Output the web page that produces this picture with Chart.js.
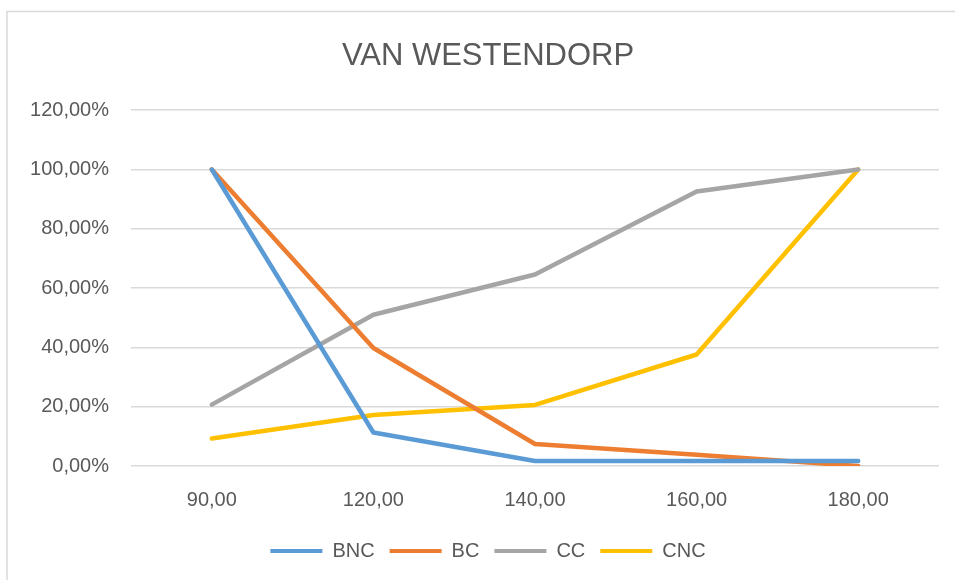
<!DOCTYPE html>
<html>
<head>
<meta charset="utf-8">
<script src="https://cdn.jsdelivr.net/npm/chart.js@4/dist/chart.umd.min.js"></script>
<style>
  html, body { margin: 0; padding: 0; background: #ffffff; }
  #wrap { position: relative; width: 955px; height: 580px; }
</style>
</head>
<body>
<div id="wrap"><canvas id="c" width="955" height="580"></canvas></div>
<script>
const categories = ["90,00", "120,00", "140,00", "160,00", "180,00"];
const seriesNames = ["BNC", "BC", "CC", "CNC"];
const bnc = [1.00, 0.113, 0.017, 0.017, 0.017];
const bc  = [1.00, 0.398, 0.074, 0.038, 0.000];
const cc  = [0.207, 0.510, 0.646, 0.926, 1.00];
const cnc = [0.093, 0.172, 0.206, 0.376, 1.00];
const colors = ["#5B9BD5", "#ED7D31", "#A5A5A5", "#FFC000"];
const yTicks = [0, 0.2, 0.4, 0.6, 0.8, 1.0, 1.2];

const textColor = "#595959";
const fontFamily = "'Liberation Sans', Arial, sans-serif";

const borderPlugin = {
  id: 'frame',
  afterLayout(chart) {
    // centre title and legend on the frame like the original
    if (chart.titleBlock) chart.titleBlock.left = 37;
    if (chart.legend) chart.legend.left = 37;
  },
  beforeDraw(chart) {
    const ctx = chart.ctx;
    ctx.save();
    ctx.strokeStyle = '#d9d9d9';
    ctx.lineWidth = 1.5;
    ctx.beginPath();
    ctx.moveTo(7, 580);
    ctx.lineTo(7, 11.5);
    ctx.lineTo(955, 11.5);
    ctx.stroke();
    ctx.restore();
  }
};

const allSeries = [bnc, bc, cc, cnc];
const datasets = allSeries.map((d, i) => ({
  label: seriesNames[i],
  data: d,
  borderColor: colors[i],
  backgroundColor: colors[i],
  borderWidth: 4.5,
  pointRadius: 0,
  pointHoverRadius: 0,
  tension: 0,
  fill: false,
  borderCapStyle: 'round',
  borderJoinStyle: 'round'
}));

new Chart(document.getElementById('c'), {
  type: 'line',
  data: { labels: categories, datasets },
  plugins: [borderPlugin],
  options: {
    responsive: false,
    animation: false,
    devicePixelRatio: 1,
    layout: { padding: { left: 0, right: 16, top: 20, bottom: 9 } },
    plugins: {
      title: {
        display: true,
        text: 'VAN WESTENDORP',
        color: textColor,
        font: { family: fontFamily, size: 31, weight: 'normal' },
        padding: { top: 18, bottom: 35 }
      },
      legend: {
        position: 'bottom',
        labels: {
          color: textColor,
          font: { family: fontFamily, size: 20 },
          boxWidth: 52,
          boxHeight: 4,
          padding: 15,
          generateLabels(chart) {
            return chart.data.datasets.map((ds, i) => ({
              text: ds.label,
              fillStyle: ds.borderColor,
              strokeStyle: ds.borderColor,
              lineWidth: 0,
              fontColor: textColor,
              datasetIndex: i,
              hidden: false
            }));
          }
        }
      },
      tooltip: { enabled: false }
    },
    scales: {
      x: {
        offset: true,
        grid: { display: false, drawTicks: false },
        border: { display: false },
        ticks: { color: textColor, font: { family: fontFamily, size: 20 }, padding: 22 },
        afterFit(scale) { scale.height = 60; }
      },
      y: {
        min: 0,
        max: 1.2,
        afterBuildTicks(scale) { scale.ticks = yTicks.map(v => ({ value: v })); },
        grid: { color: '#d9d9d9', lineWidth: 1.5, drawTicks: false },
        border: { display: false },
        ticks: {
          color: textColor,
          font: { family: fontFamily, size: 20 },
          padding: 22,
          callback: (v) => (v * 100).toFixed(2).replace('.', ',') + '%'
        },
        afterFit(scale) { scale.width = 131; }
      }
    }
  }
});
</script>
</body>
</html>
